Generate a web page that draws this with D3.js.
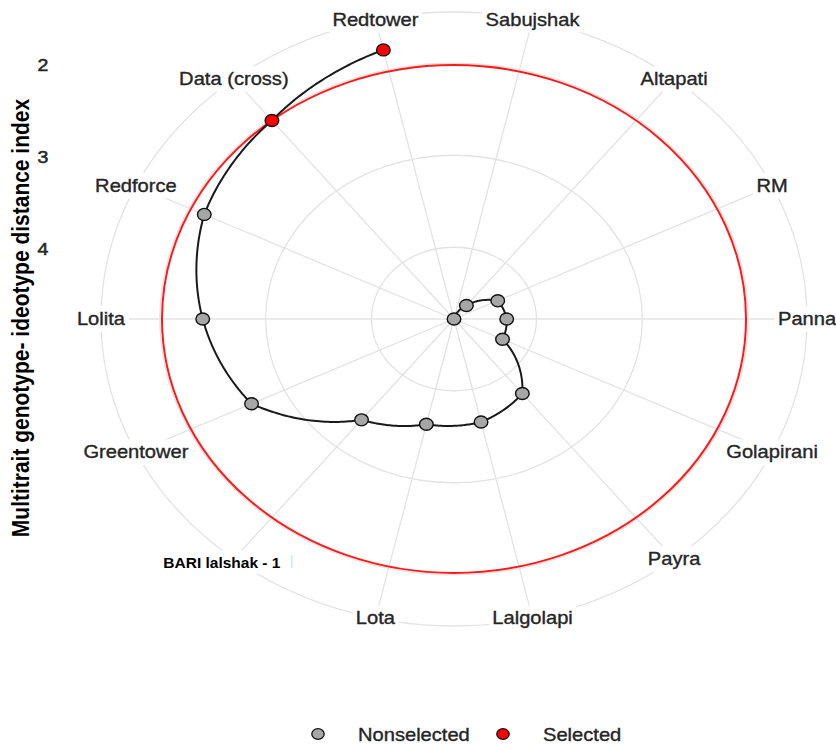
<!DOCTYPE html>
<html>
<head>
<meta charset="utf-8">
<script src="https://cdn.jsdelivr.net/npm/d3@7"></script>
<style>
  body { margin: 0; background: #fff; }
  svg { display: block; }
  text { font-family: "Liberation Sans", Arial, sans-serif; }
</style>
</head>
<body>
<svg id="chart" width="836" height="746"></svg>
<script>
// Genotypes in angular (factor) order, clockwise from the top
const genotypes = ["Sabujshak", "Altapati", "RM", "Panna", "Golapirani", "Payra", "Lalgolapi",
  "Lota", "BARI lalshak - 1", "Greentower", "Lolita", "Redforce", "Data (cross)", "Redtower"];
// Genotypes by MGIDI rank and their index values
const ranking = ["Redtower", "Data (cross)", "Redforce", "Lolita", "Greentower", "BARI lalshak - 1",
  "Lota", "Lalgolapi", "Payra", "Golapirani", "Panna", "RM", "Altapati", "Sabujshak"];
const mgidi = [1.78, 2.02, 2.16, 2.405, 2.656, 3.378, 3.606, 3.631, 3.744, 4.271, 4.282, 4.321, 4.592, 4.78];
const selected = ["Redtower", "Data (cross)"];
const cutoff = 2.02;
const radialTicks = [2, 3, 4];
const legendLabels = ["Nonselected", "Selected"];

const svg = d3.select("#chart");
const cx = 454, cy = 319;
const sx = 1.15;          // horizontal stretch of the whole panel
const R = 276;            // radius for the data range
const ringR = 307;        // outer ring where genotype names sit
const textCol = "#262626";

const theta = d3.scaleBand().domain(genotypes).range([0, 2 * Math.PI]);
const ang = g => theta(g) + theta.bandwidth() / 2;
const ext = d3.extent(mgidi);
const r = d3.scaleLinear().domain([ext[1], ext[0]]).range([0, R]);
const pt = (a, rr) => [cx + sx * rr * Math.sin(a), cy - rr * Math.cos(a)];

const grid = svg.append("g").attr("fill", "none").attr("stroke", "#e3e3e3").attr("stroke-width", 1.3);
radialTicks.forEach(t => {
  grid.append("ellipse").attr("cx", cx).attr("cy", cy).attr("rx", sx * r(t)).attr("ry", r(t));
});
grid.append("ellipse").attr("cx", cx).attr("cy", cy).attr("rx", sx * ringR).attr("ry", ringR);
genotypes.forEach(g => {
  const p = pt(ang(g), ringR);
  grid.append("line").attr("x1", cx).attr("y1", cy).attr("x2", p[0]).attr("y2", p[1]);
});

// cutoff circle (MGIDI of the last selected genotype)
svg.append("ellipse").attr("cx", cx).attr("cy", cy)
  .attr("rx", sx * r(cutoff)).attr("ry", r(cutoff))
  .attr("fill", "none").attr("stroke", "#ff1a1a").attr("stroke-width", 2);

// path joining the genotypes by rank, interpolated in polar space
const pathPts = [];
for (let i = 0; i < ranking.length - 1; i++) {
  const a0 = ang(ranking[i]), a1 = ang(ranking[i + 1]);
  const r0 = r(mgidi[i]), r1 = r(mgidi[i + 1]);
  const n = 40;
  for (let j = 0; j <= n; j++) {
    const t = j / n;
    pathPts.push(pt(a0 + (a1 - a0) * t, r0 + (r1 - r0) * t));
  }
}
svg.append("path").attr("d", d3.line()(pathPts))
  .attr("fill", "none").attr("stroke", "#1a1a1a").attr("stroke-width", 2);

// points
ranking.forEach((g, i) => {
  const p = pt(ang(g), r(mgidi[i]));
  svg.append("ellipse").attr("cx", p[0]).attr("cy", p[1]).attr("rx", 6.8).attr("ry", 6)
    .attr("fill", selected.includes(g) ? "#ff0000" : "#a6a6a6")
    .attr("stroke", "#111").attr("stroke-width", 1.4);
});

// genotype names on the outer ring
genotypes.forEach(g => {
  const special = g === "BARI lalshak - 1";
  const p = pt(ang(g), ringR);
  const lg = svg.append("g")
    .attr("transform", special ? `translate(${p[0] - 12},${p[1] + 3})` : `translate(${p[0]},${p[1]}) scale(${sx},1)`);
  const tx = lg.append("text").attr("text-anchor", "middle").attr("dominant-baseline", "central")
    .attr("font-size", special ? 15.5 : 17.5)
    .attr("font-weight", special ? "bold" : "normal")
    .attr("fill", special ? "#000" : textCol)
    .attr("stroke", special ? "none" : textCol).attr("stroke-width", 0.35)
    .text(g);
  const bb = tx.node().getBBox();
  lg.insert("rect", "text").attr("x", bb.x - 3).attr("y", bb.y - 3)
    .attr("width", bb.width + 6).attr("height", bb.height + 6).attr("fill", "#fff");
});
// small mark next to the BARI label
{
  const p = pt(ang("BARI lalshak - 1"), ringR);
  svg.append("line").attr("x1", p[0] + 58).attr("x2", p[0] + 58).attr("y1", p[1] - 4).attr("y2", p[1] + 9)
    .attr("stroke", "#a8e2ea").attr("stroke-width", 1);
}

// radial axis labels
radialTicks.forEach(t => {
  svg.append("text").attr("transform", `translate(43,${cy - r(t) + 2}) scale(${sx},1)`)
    .attr("text-anchor", "middle").attr("dominant-baseline", "central")
    .attr("font-size", 17).attr("fill", textCol).attr("stroke", textCol).attr("stroke-width", 0.5).text(t);
});

// axis title
svg.append("text").attr("transform", `translate(21,${cy - 1}) scale(${sx},1) rotate(-90)`)
  .attr("text-anchor", "middle").attr("dominant-baseline", "central")
  .attr("font-size", 21).attr("font-weight", "bold").attr("fill", "#000")
  .text("Multitrait genotype- ideotype distance index");

// legend
const legend = svg.append("g");
const legendX = [318, 503];
legendLabels.forEach((lab, i) => {
  legend.append("ellipse").attr("cx", legendX[i]).attr("cy", 734).attr("rx", 6.2).attr("ry", 5.4)
    .attr("fill", i === 1 ? "#ff0000" : "#a6a6a6").attr("stroke", "#111").attr("stroke-width", 1.3);
  legend.append("text").attr("transform", `translate(${legendX[i] + 40},735) scale(${sx},1)`)
    .attr("dominant-baseline", "central").attr("font-size", 17.5)
    .attr("fill", textCol).attr("stroke", textCol).attr("stroke-width", 0.35).text(lab);
});
</script>
</body>
</html>
